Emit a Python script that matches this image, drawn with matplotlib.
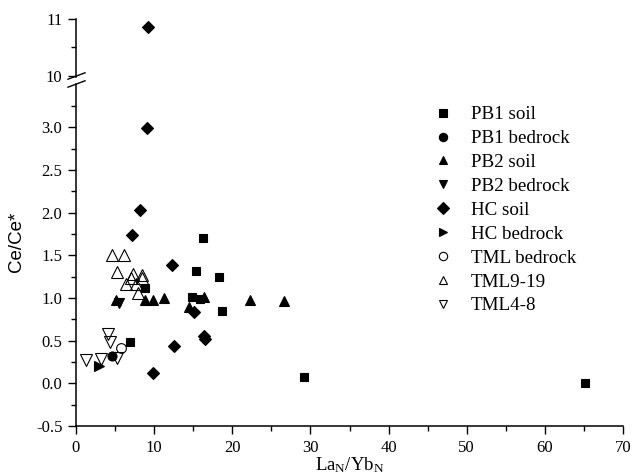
import matplotlib
matplotlib.use("Agg")
import matplotlib.pyplot as plt
from matplotlib.ticker import MultipleLocator, FixedLocator, FormatStrFormatter

plt.rcParams['font.family'] = ['Liberation Serif', 'DejaVu Serif']
plt.rcParams['mathtext.fontset'] = 'custom'
plt.rcParams['mathtext.rm'] = 'Liberation Serif'
plt.rcParams['mathtext.it'] = 'Liberation Serif'

# ---- data (La_N/Yb_N, Ce/Ce*) ----
pb1_soil_x = [16.3, 15.4, 18.3, 8.8, 14.9, 15.9, 18.7, 6.9, 29.2, 65.2]
pb1_soil_y = [1.71, 1.32, 1.25, 1.12, 1.01, 0.99, 0.85, 0.49, 0.08, 0.01]

pb1_bed_x = [4.65]
pb1_bed_y = [0.32]

pb2_soil_x = [5.1, 8.8, 9.9, 11.3, 14.5, 16.4, 22.3, 26.6]
pb2_soil_y = [0.98, 0.98, 0.98, 1.00, 0.89, 1.01, 0.98, 0.96]

pb2_bed_x = [5.5]
pb2_bed_y = [0.94]

hc_soil_x = [9.2, 9.05, 8.2, 7.2, 12.3, 15.1, 16.4, 16.5, 12.5, 9.8]
hc_soil_y = [10.86, 2.99, 2.03, 1.74, 1.39, 0.84, 0.56, 0.52, 0.44, 0.12]

hc_bed_x = [3.0]
hc_bed_y = [0.20]

tml_bed_x = [5.76]
tml_bed_y = [0.42]

tml919_x = [4.6, 6.1, 5.25, 7.3, 8.5, 7.0, 8.4, 6.4, 7.7, 7.9]
tml919_y = [1.50, 1.51, 1.31, 1.285, 1.27, 1.23, 1.23, 1.16, 1.16, 1.065]

tml48_x = [1.3, 3.25, 4.15, 4.3, 5.2]
tml48_y = [0.27, 0.28, 0.58, 0.485, 0.30]

series = [
    ("PB1 soil", pb1_soil_x, pb1_soil_y, 's', 'black', 6.3),
    ("PB1 bedrock", pb1_bed_x, pb1_bed_y, 'o', 'black', 6.5),
    ("PB2 soil", pb2_soil_x, pb2_soil_y, '^', 'black', 7.8),
    ("PB2 bedrock", pb2_bed_x, pb2_bed_y, 'v', 'black', 7.8),
    ("HC soil", hc_soil_x, hc_soil_y, 'D', 'black', 6.0),
    ("HC bedrock", hc_bed_x, hc_bed_y, '>', 'black', 7.8),
    ("TML bedrock", tml_bed_x, tml_bed_y, 'o', 'none', 7.0),
    ("TML9-19", tml919_x, tml919_y, '^', 'none', 8.2),
    ("TML4-8", tml48_x, tml48_y, 'v', 'none', 8.2),
]

W, H = 633, 476
fig = plt.figure(figsize=(W / 100, H / 100), dpi=100)

def px(x0, y0, x1, y1):
    return [x0 / W, 1 - y1 / H, (x1 - x0) / W, (y1 - y0) / H]

ax = fig.add_axes(px(76, 84, 623, 426))
axt = fig.add_axes(px(76, 19, 623, 77), sharex=ax)

handles = []
for name, xs, ys, m, fc, ms in series:
    lo = [(x, y) for x, y in zip(xs, ys) if y < 5]
    hi = [(x, y) for x, y in zip(xs, ys) if y >= 5]
    h, = ax.plot([p[0] for p in lo], [p[1] for p in lo], linestyle='none', marker=m,
                 markersize=ms, markerfacecolor=fc, markeredgecolor='black',
                 markeredgewidth=0.8, label=name, clip_on=False)
    if hi:
        axt.plot([p[0] for p in hi], [p[1] for p in hi], linestyle='none', marker=m,
                 markersize=ms, markerfacecolor=fc, markeredgecolor='black',
                 markeredgewidth=0.8, clip_on=False)
    handles.append(h)

ax.set_xlim(0, 70)
ax.set_ylim(-0.5, 3.51)
axt.set_ylim(9.98, 11)

for a in (ax, axt):
    a.spines['top'].set_visible(False)
    a.spines['right'].set_visible(False)
    a.spines['left'].set_linewidth(1.1)
    a.spines['bottom'].set_linewidth(1.1)
    a.tick_params(which='major', direction='out', length=5.8, width=1.0,
                  labelsize=12, pad=4)
    a.tick_params(which='minor', direction='out', length=3.4, width=1.0)
    a.set_facecolor('none')

axt.spines['bottom'].set_visible(False)
axt.tick_params(axis='x', which='both', bottom=False, labelbottom=False)

ax.xaxis.set_major_locator(MultipleLocator(10))
ax.xaxis.set_minor_locator(MultipleLocator(5))
ax.yaxis.set_major_locator(FixedLocator([-0.5, 0.0, 0.5, 1.0, 1.5, 2.0, 2.5, 3.0]))
ax.yaxis.set_minor_locator(FixedLocator([-0.25, 0.25, 0.75, 1.25, 1.75, 2.25, 2.75, 3.25]))
ax.yaxis.set_major_formatter(FormatStrFormatter('%.1f'))
axt.yaxis.set_major_locator(FixedLocator([10, 11]))
axt.yaxis.set_minor_locator(FixedLocator([10.5]))
axt.yaxis.set_major_formatter(FormatStrFormatter('%d'))

# break marks
for yb in (76, 84):
    fig.add_artist(plt.Line2D([68 / W, 85 / W], [1 - (yb + 3.2) / H, 1 - (yb - 3.2) / H],
                              color='black', lw=1.0))

ax.set_xlabel(r'La$_{\rm N}$/Yb$_{\rm N}$', fontsize=13.5, labelpad=0)
fig.text(16 / W, 1 - 242 / H, 'Ce/Ce*', rotation=90, fontsize=13.5,
         family=['Liberation Sans', 'DejaVu Sans'], ha='center', va='center')

leg = fig.legend(handles=handles, loc='upper left',
                 bbox_to_anchor=(432 / W, 1 - 106 / H), frameon=False,
                 fontsize=13.7, handletextpad=0.85, labelspacing=0.345,
                 handlelength=1.2, borderaxespad=0, borderpad=0)
for lh in leg.legend_handles:
    lh.set_markersize(6)

fig.savefig('out.png', dpi=100)
